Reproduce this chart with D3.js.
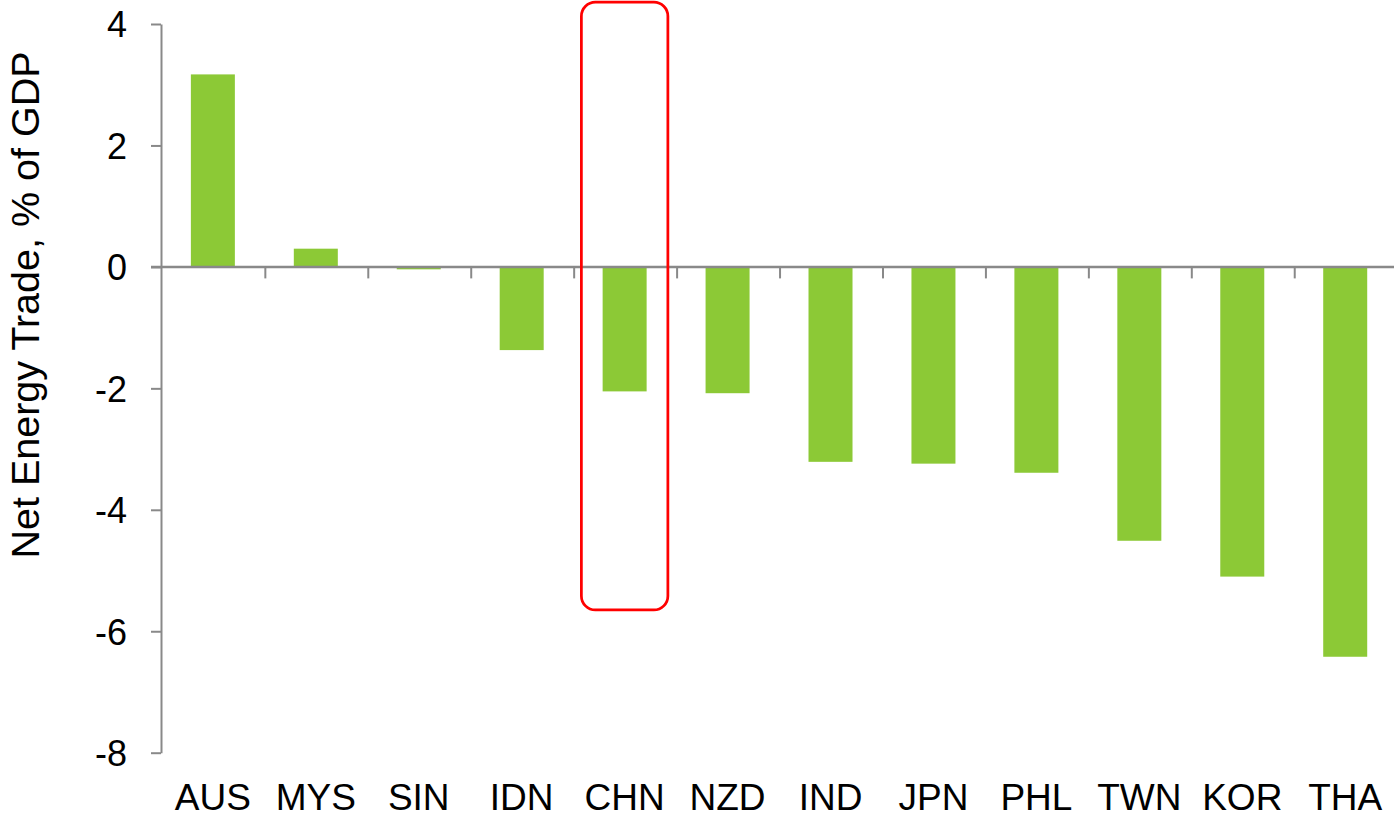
<!DOCTYPE html>
<html>
<head>
<meta charset="utf-8">
<script src="https://cdn.jsdelivr.net/npm/d3@7/dist/d3.min.js"></script>
<style>
  html, body { margin: 0; padding: 0; background: #fff; }
  svg { display: block; font-family: "Liberation Sans", Arial, sans-serif; }
</style>
</head>
<body>
<svg id="chart" width="1394" height="818"></svg>
<script>
// Net energy trade by economy, % of GDP
const categories = ["AUS", "MYS", "SIN", "IDN", "CHN", "NZD", "IND", "JPN", "PHL", "TWN", "KOR", "THA"];
const values = [3.17, 0.30, -0.04, -1.37, -2.05, -2.08, -3.21, -3.24, -3.39, -4.51, -5.10, -6.42];
const yTicks = [4, 2, 0, -2, -4, -6, -8];
const highlighted = "CHN";
const yTitle = "Net Energy Trade, % of GDP";

const svg = d3.select("#chart");
const axisColor = "#898989";
const barColor = "#8cc936";

const x = d3.scaleBand()
  .domain(categories)
  .range([161.4, 161.4 + 12 * 102.94])
  .paddingInner(0.5726)
  .paddingOuter(0.2863);

const y = d3.scaleLinear()
  .domain([-8, 4])
  .range([752.7, 24]);

// bars
svg.append("g")
  .selectAll("rect")
  .data(categories.map((c, i) => ({ c, v: values[i] })))
  .join("rect")
  .attr("x", d => x(d.c))
  .attr("width", x.bandwidth())
  .attr("y", d => y(Math.max(0, d.v)))
  .attr("height", d => Math.abs(y(d.v) - y(0)))
  .attr("fill", barColor);

// vertical value axis
const yAxis = d3.axisLeft(y)
  .tickValues(yTicks)
  .tickSize(10)
  .tickPadding(24)
  .tickSizeOuter(0)
  .tickFormat(d3.format("d"));

const gy = svg.append("g")
  .attr("transform", "translate(161,0)")
  .call(yAxis);
gy.select(".domain").attr("stroke", axisColor).attr("stroke-width", 2);
gy.selectAll(".tick line").attr("stroke", axisColor).attr("stroke-width", 2);
gy.selectAll(".tick text")
  .attr("fill", "#000")
  .attr("font-size", 36)
  .attr("font-family", "Liberation Sans, Arial, sans-serif")
  .attr("dy", "0.36em")
  .text(d => d < 0 ? "-" + Math.abs(d) : d);

// zero line with category separators below it
const step = x.step();
const zeroY = y(0);
svg.append("line")
  .attr("x1", 151).attr("x2", 1394)
  .attr("y1", zeroY).attr("y2", zeroY)
  .attr("stroke", axisColor).attr("stroke-width", 2.5);

svg.append("g")
  .selectAll("line")
  .data(categories.slice(1))
  .join("line")
  .attr("x1", d => x(d) - x.paddingOuter() * step + 1)
  .attr("x2", d => x(d) - x.paddingOuter() * step + 1)
  .attr("y1", zeroY)
  .attr("y2", zeroY + 11.5)
  .attr("stroke", axisColor)
  .attr("stroke-width", 2);

// category labels
svg.append("g")
  .selectAll("text")
  .data(categories)
  .join("text")
  .attr("x", d => x(d) + x.bandwidth() / 2)
  .attr("y", 810)
  .attr("text-anchor", "middle")
  .attr("font-size", 37)
  .attr("fill", "#000")
  .text(d => d);

// axis title
svg.append("text")
  .attr("transform", "translate(39,305) rotate(-90)")
  .attr("text-anchor", "middle")
  .attr("font-size", 39.5)
  .attr("fill", "#000")
  .text(yTitle);

// highlight box around one economy
const hx = x(highlighted) + x.bandwidth() / 2;
const boxW = 86.5;
svg.append("rect")
  .attr("x", hx - boxW / 2)
  .attr("y", y(4.36))
  .attr("width", boxW)
  .attr("height", y(-5.65) - y(4.36))
  .attr("rx", 14)
  .attr("ry", 14)
  .attr("fill", "none")
  .attr("stroke", "#ff0000")
  .attr("stroke-width", 2.75);
</script>
</body>
</html>
